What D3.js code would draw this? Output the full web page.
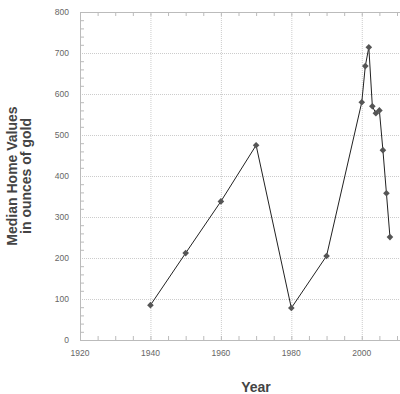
<!DOCTYPE html>
<html>
<head>
<meta charset="utf-8">
<title>Median Home Values in ounces of gold</title>
<script src="https://cdn.jsdelivr.net/npm/d3@7"></script>
<style>
  body { margin: 0; background: #fff; }
  text { font-family: "Liberation Sans", Arial, sans-serif; }
</style>
</head>
<body>
<svg width="400" height="394"></svg>
<script>
// data
var years  = [1940, 1950, 1960, 1970, 1980, 1990, 2000, 2001, 2002, 2003, 2004, 2005, 2006, 2007, 2008];
var values = [85, 212, 338, 475, 78, 205, 580, 668, 714, 570, 553, 560, 463, 358, 251];
var xTicks = [1920, 1940, 1960, 1980, 2000];
var yTicks = [0, 100, 200, 300, 400, 500, 600, 700, 800];

var svg = d3.select("svg");
var x = d3.scaleLinear().domain([1920, 2010]).range([80, 397]);
var y = d3.scaleLinear().domain([0, 800]).range([340, 12]);

// grid
svg.append("g").selectAll("line").data(xTicks.slice(1)).enter().append("line")
  .attr("x1", d => x(d) + 0.5).attr("x2", d => x(d) + 0.5)
  .attr("y1", y(800)).attr("y2", y(0))
  .attr("stroke", "#ccc").attr("stroke-dasharray", "1,1");
svg.append("g").selectAll("line").data(yTicks.slice(1, -1)).enter().append("line")
  .attr("x1", x(1920)).attr("x2", 400)
  .attr("y1", d => y(d) + 0.5).attr("y2", d => y(d) + 0.5)
  .attr("stroke", "#ccc").attr("stroke-dasharray", "1,1");

// frame
var axisColor = "#bbb";
svg.append("line").attr("x1", x(1920) + 0.5).attr("x2", x(1920) + 0.5)
  .attr("y1", y(800)).attr("y2", y(0)).attr("stroke", axisColor);
svg.append("line").attr("x1", x(1920)).attr("x2", 400)
  .attr("y1", y(0) + 0.5).attr("y2", y(0) + 0.5).attr("stroke", axisColor);
svg.append("line").attr("x1", x(1920)).attr("x2", 400)
  .attr("y1", y(800) + 0.5).attr("y2", y(800) + 0.5).attr("stroke", axisColor);

// minor ticks (inside)
var xMinor = d3.range(1925, 2011, 5);
svg.append("g").selectAll("line").data(xMinor).enter().append("line")
  .attr("x1", d => x(d) + 0.5).attr("x2", d => x(d) + 0.5)
  .attr("y1", y(0)).attr("y2", y(0) - 4).attr("stroke", axisColor);
svg.append("g").selectAll("line").data(xMinor).enter().append("line")
  .attr("x1", d => x(d) + 0.5).attr("x2", d => x(d) + 0.5)
  .attr("y1", y(800)).attr("y2", y(800) + 4).attr("stroke", axisColor);
var yMinor = d3.range(20, 800, 20).filter(d => d % 100 !== 0);
svg.append("g").selectAll("line").data(yMinor).enter().append("line")
  .attr("x1", x(1920)).attr("x2", x(1920) + 4)
  .attr("y1", d => y(d) + 0.5).attr("y2", d => y(d) + 0.5).attr("stroke", axisColor);

// tick labels
svg.append("g").selectAll("text").data(yTicks).enter().append("text")
  .attr("x", 69).attr("y", d => y(d) + 3)
  .attr("text-anchor", "end").attr("font-size", 8.5).attr("fill", "#666")
  .text(d => d);
svg.append("g").selectAll("text").data(xTicks).enter().append("text")
  .attr("x", d => x(d)).attr("y", 356)
  .attr("text-anchor", "middle").attr("font-size", 8.5).attr("fill", "#666")
  .text(d => d);

// axis titles
svg.append("text").attr("x", 256).attr("y", 392)
  .attr("text-anchor", "middle").attr("font-size", 14).attr("font-weight", "bold")
  .attr("fill", "#444").text("Year");
var yt = svg.append("text").attr("transform", "translate(0,176) rotate(-90)")
  .attr("text-anchor", "middle").attr("font-size", 14).attr("font-weight", "bold")
  .attr("fill", "#444");
yt.append("tspan").attr("x", 0).attr("y", 17).text("Median Home Values");
yt.append("tspan").attr("x", 0).attr("y", 31).text("in ounces of gold");

// line + markers
var pts = years.map((d, i) => [d, values[i]]);
svg.append("path").datum(pts)
  .attr("d", d3.line().x(d => x(d[0])).y(d => y(d[1])))
  .attr("fill", "none").attr("stroke", "#222").attr("stroke-width", 1);
svg.append("g").selectAll("path").data(pts).enter().append("path")
  .attr("transform", d => "translate(" + x(d[0]) + "," + y(d[1]) + ")")
  .attr("d", d3.symbol().type(d3.symbolDiamond2).size(28))
  .attr("fill", "#555");
</script>
</body>
</html>
